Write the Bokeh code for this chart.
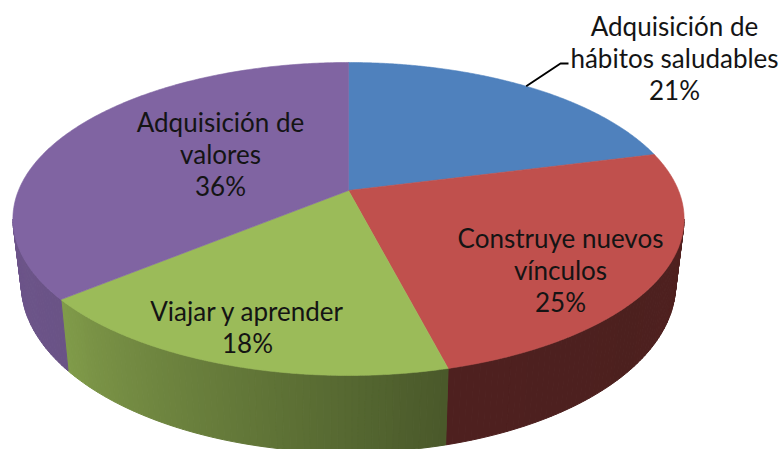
import numpy as np
from bokeh.plotting import figure
from bokeh.models import Range1d
from bokeh.core.properties import value
from bokeh.embed import file_html
from bokeh.resources import INLINE

# ---------------- data ----------------
categories = ["Adquisición de hábitos saludables", "Construye nuevos vínculos",
              "Viajar y aprender", "Adquisición de valores"]
label_lines = [["Adquisición de", "hábitos saludables"],
               ["Construye nuevos", "vínculos"],
               ["Viajar y aprender"],
               ["Adquisición de", "valores"]]
percents = [21, 25, 18, 36]
colors = ["#4F81BD", "#C0504D", "#9BBB59", "#8064A2"]

# ---------------- layout (screen-like coordinates) ----------------
W, H = 781, 449
CX, CY = 348.0, 190.0      # projected pie centre
A, B = 330.0, 151.3        # ellipse radii before perspective
P = 0.182                  # perspective strength
DEPTH = 63.0               # thickness of the pie
SHRINK = 0.975             # bottom rim slightly narrower (perspective)
VIS = (-169.5, -10.5)      # visible side angles (deg)
label_pos = [(674, 25), (560, 237), (247, 310), (220, 121)]  # x, first line centre
LINE_STEP = 32
leader_angle = 52.0
leader_pts = [(560, 63), (568, 63)]
FONT = "Lato"
FSIZE = "26px"


def top_pt(th_deg):
    t = np.radians(th_deg)
    k = 1.0 / (1.0 + P * np.sin(t))
    return CX + A * np.cos(t) * k, CY - B * np.sin(t) * k, k


def bot_pt(th_deg):
    x, y, k = top_pt(th_deg)
    return CX + (x - CX) * SHRINK, y + DEPTH * k


def shade(i, th):
    if i == 1:  # red slice side is very dark
        return np.interp(th, [-76, -40, -10], [0.41, 0.40, 0.42])
    return np.interp(th, [-170, -140, -76], [0.86, 0.83, 0.48])


def darker(hexcol, f):
    r, g, b = (int(hexcol[i:i + 2], 16) for i in (1, 3, 5))
    return "#%02x%02x%02x" % (int(r * f), int(g * f), int(b * f))


p = figure(width=W, height=H, x_range=Range1d(0, W), y_range=Range1d(H, 0),
           output_backend="svg", toolbar_location=None, min_border=0,
           x_axis_location=None, y_axis_location=None)
p.grid.visible = False
p.outline_line_color = None
p.background_fill_color = "white"
p.border_fill_color = "white"

total = float(sum(percents))
cum = np.concatenate([[0], np.cumsum(percents)]) / total
starts = 90 - 360 * cum[:-1]
ends = 90 - 360 * cum[1:]

# ---- side strips ----
sxs, sys, scol = [], [], []
for i in range(len(percents)):
    hi, lo = starts[i], ends[i]
    a0 = max(lo, VIS[0])
    a1 = min(hi, VIS[1])
    if a0 >= a1:
        continue
    n = max(2, int(np.ceil((a1 - a0) / 1.0)))
    grid = np.linspace(a0, a1, n + 1)
    for j in range(n):
        t0, t1 = grid[j], grid[j + 1]
        x0, y0, _ = top_pt(t0)
        x1, y1, _ = top_pt(t1)
        bx0, by0 = bot_pt(t0)
        bx1, by1 = bot_pt(t1)
        sxs.append([x0, x1, bx1, bx0])
        sys.append([y0, y1, by1, by0])
        scol.append(darker(colors[i], shade(i, 0.5 * (t0 + t1))))
p.patches(sxs, sys, fill_color=scol, line_color=scol, line_width=1)

# ---- top face ----
txs, tys = [], []
for i in range(len(percents)):
    th = np.linspace(starts[i], ends[i], 200)
    pts = [top_pt(t) for t in th]
    txs.append([CX] + [q[0] for q in pts])
    tys.append([CY] + [q[1] for q in pts])
p.patches(txs, tys, fill_color=colors, line_color=colors, line_width=0.6)

# ---- labels (one text per line) ----
lx_, ly_, lt_ = [], [], []
for (x0, y0), lines, v in zip(label_pos, label_lines, percents):
    for j, s in enumerate(lines + ["%d%%" % v]):
        lx_.append(x0)
        ly_.append(y0 + j * LINE_STEP)
        lt_.append(s)
p.text(x=lx_, y=ly_, text=lt_, text_font=value(FONT), text_font_size=FSIZE,
       text_color="#141414", text_align="center", text_baseline="middle")

# ---- leader line ----
lx, ly, _ = top_pt(leader_angle)
p.line([lx] + [q[0] for q in leader_pts], [ly] + [q[1] for q in leader_pts],
       line_color="black", line_width=2)

open("out.html", "w").write(file_html(p, INLINE))
